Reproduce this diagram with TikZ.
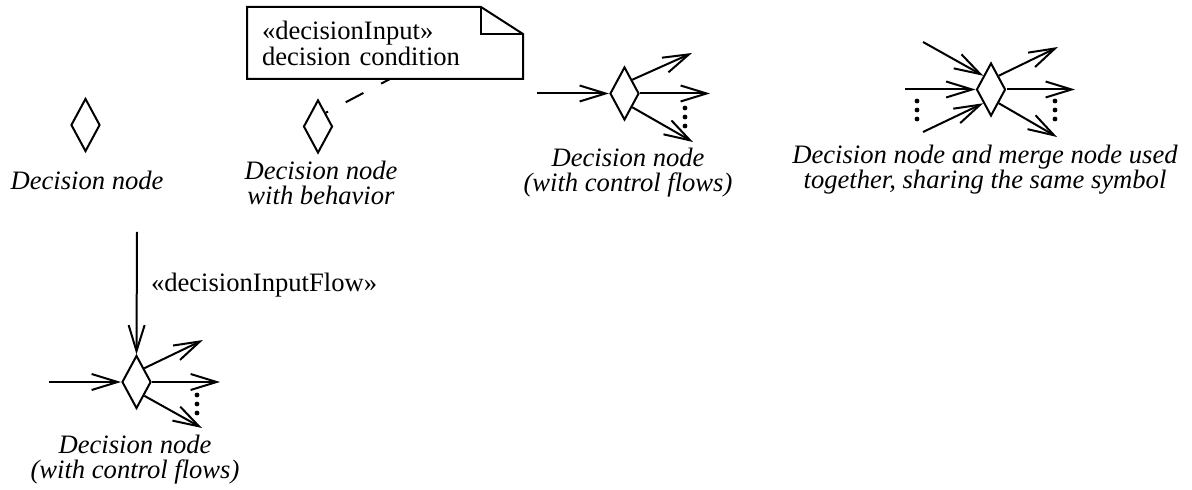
\documentclass[tikz,border=0pt]{standalone}
\usepackage{fontspec}
\setmainfont{Liberation Serif}
\usetikzlibrary{arrows.meta,shapes.geometric}

\begin{document}
\begin{tikzpicture}[x=0.5pt,y=-0.5pt,line width=1pt,
  decision/.style={diamond,draw,line width=1pt,inner sep=0pt,minimum width=14.5pt,minimum height=26.5pt},
  flow/.style={-{Straight Barb[length=13pt,width=8pt,line width=1pt]}},
  caption/.style={font=\fontsize{13.3}{12.5}\selectfont\itshape,align=center,anchor=north,inner sep=0pt},
  stereo/.style={font=\fontsize{13.3}{11.5}\selectfont,inner sep=0pt},
  notebox/.style={stereo,text width=123pt,align=left,inner xsep=7pt,minimum height=35pt}]
\useasboundingbox (0,0) rectangle (1192,490);
% plain decision node
\node[decision] (d1) at (85.5,125) {};
\node[caption] (l1) at (87,170) {Decision node};
% decision node with behavior
\node[decision] (d2) at (318,126.5) {};
\node[caption] (l2) at (321,160) {Decision node\\with behavior};
\node[notebox] (note) at (385,43) {«decisionInput»\\decision condition};
\draw (note.south west) -- (note.north west) -- ([xshift=-21pt]note.north east) -- ([yshift=-13.5pt]note.north east) -- (note.south east) -- cycle;
\draw ([xshift=-21pt]note.north east) |- ([yshift=-13.5pt]note.north east);
\draw[dash pattern=on 10pt off 10pt,dash phase=5pt] ([xshift=2.5pt]note.south) -- (d2.north east);
% decision node with control flows
\node[decision] (d3) at (624.5,93.5) {};
\coordinate (i3) at (537,93.5);
\coordinate (o3a) at (692,53);
\coordinate (o3b) at (710,93.5);
\coordinate (o3c) at (693,142);
\draw[flow] (i3) -- (d3.west);
\draw[flow] (d3.north east) -- (o3a);
\draw[flow] (d3.east) -- (o3b);
\draw[flow] (d3.south east) -- (o3c);
\foreach \y in {108,117,126} \fill (685,\y) circle (1.2pt);
\node[caption] (l3) at (628,147) {Decision node\\(with control flows)};
% decision and merge sharing one symbol
\node[decision] (d4) at (991,89.5) {};
\coordinate (i4a) at (923,42);
\coordinate (i4b) at (905,89.5);
\coordinate (i4c) at (923,132);
\coordinate (o4a) at (1058,47);
\coordinate (o4b) at (1075,89.5);
\coordinate (o4c) at (1057,137);
\draw[flow] (i4a) -- (d4.north west);
\draw[flow] (i4b) -- (d4.west);
\draw[flow] (i4c) -- (d4.south west);
\draw[flow] (d4.north east) -- (o4a);
\draw[flow] (d4.east) -- (o4b);
\draw[flow] (d4.south east) -- (o4c);
\foreach \y in {101,110,119} {
  \fill (917,\y) circle (1.2pt);
  \fill (1055,\y) circle (1.2pt);
}
\node[caption] (l4) at (985,144) {Decision node and merge node used\\together, sharing the same symbol};
% decision input flow
\node[decision] (d5) at (136.5,382) {};
\coordinate (i5top) at (137,232);
\coordinate (i5) at (49,382);
\coordinate (o5a) at (203,340);
\coordinate (o5b) at (220,382);
\coordinate (o5c) at (202,428);
\draw[flow] (i5top) -- (d5.north);
\node[stereo,anchor=base west] (s5) at (150,292) {«decisionInputFlow»};
\draw[flow] (i5) -- (d5.west);
\draw[flow] (d5.north east) -- (o5a);
\draw[flow] (d5.east) -- (o5b);
\draw[flow] (d5.south east) -- (o5c);
\foreach \y in {395,404,413} \fill (197,\y) circle (1.2pt);
\node[caption] (l5) at (135,434) {Decision node\\(with control flows)};
\end{tikzpicture}
\end{document}
